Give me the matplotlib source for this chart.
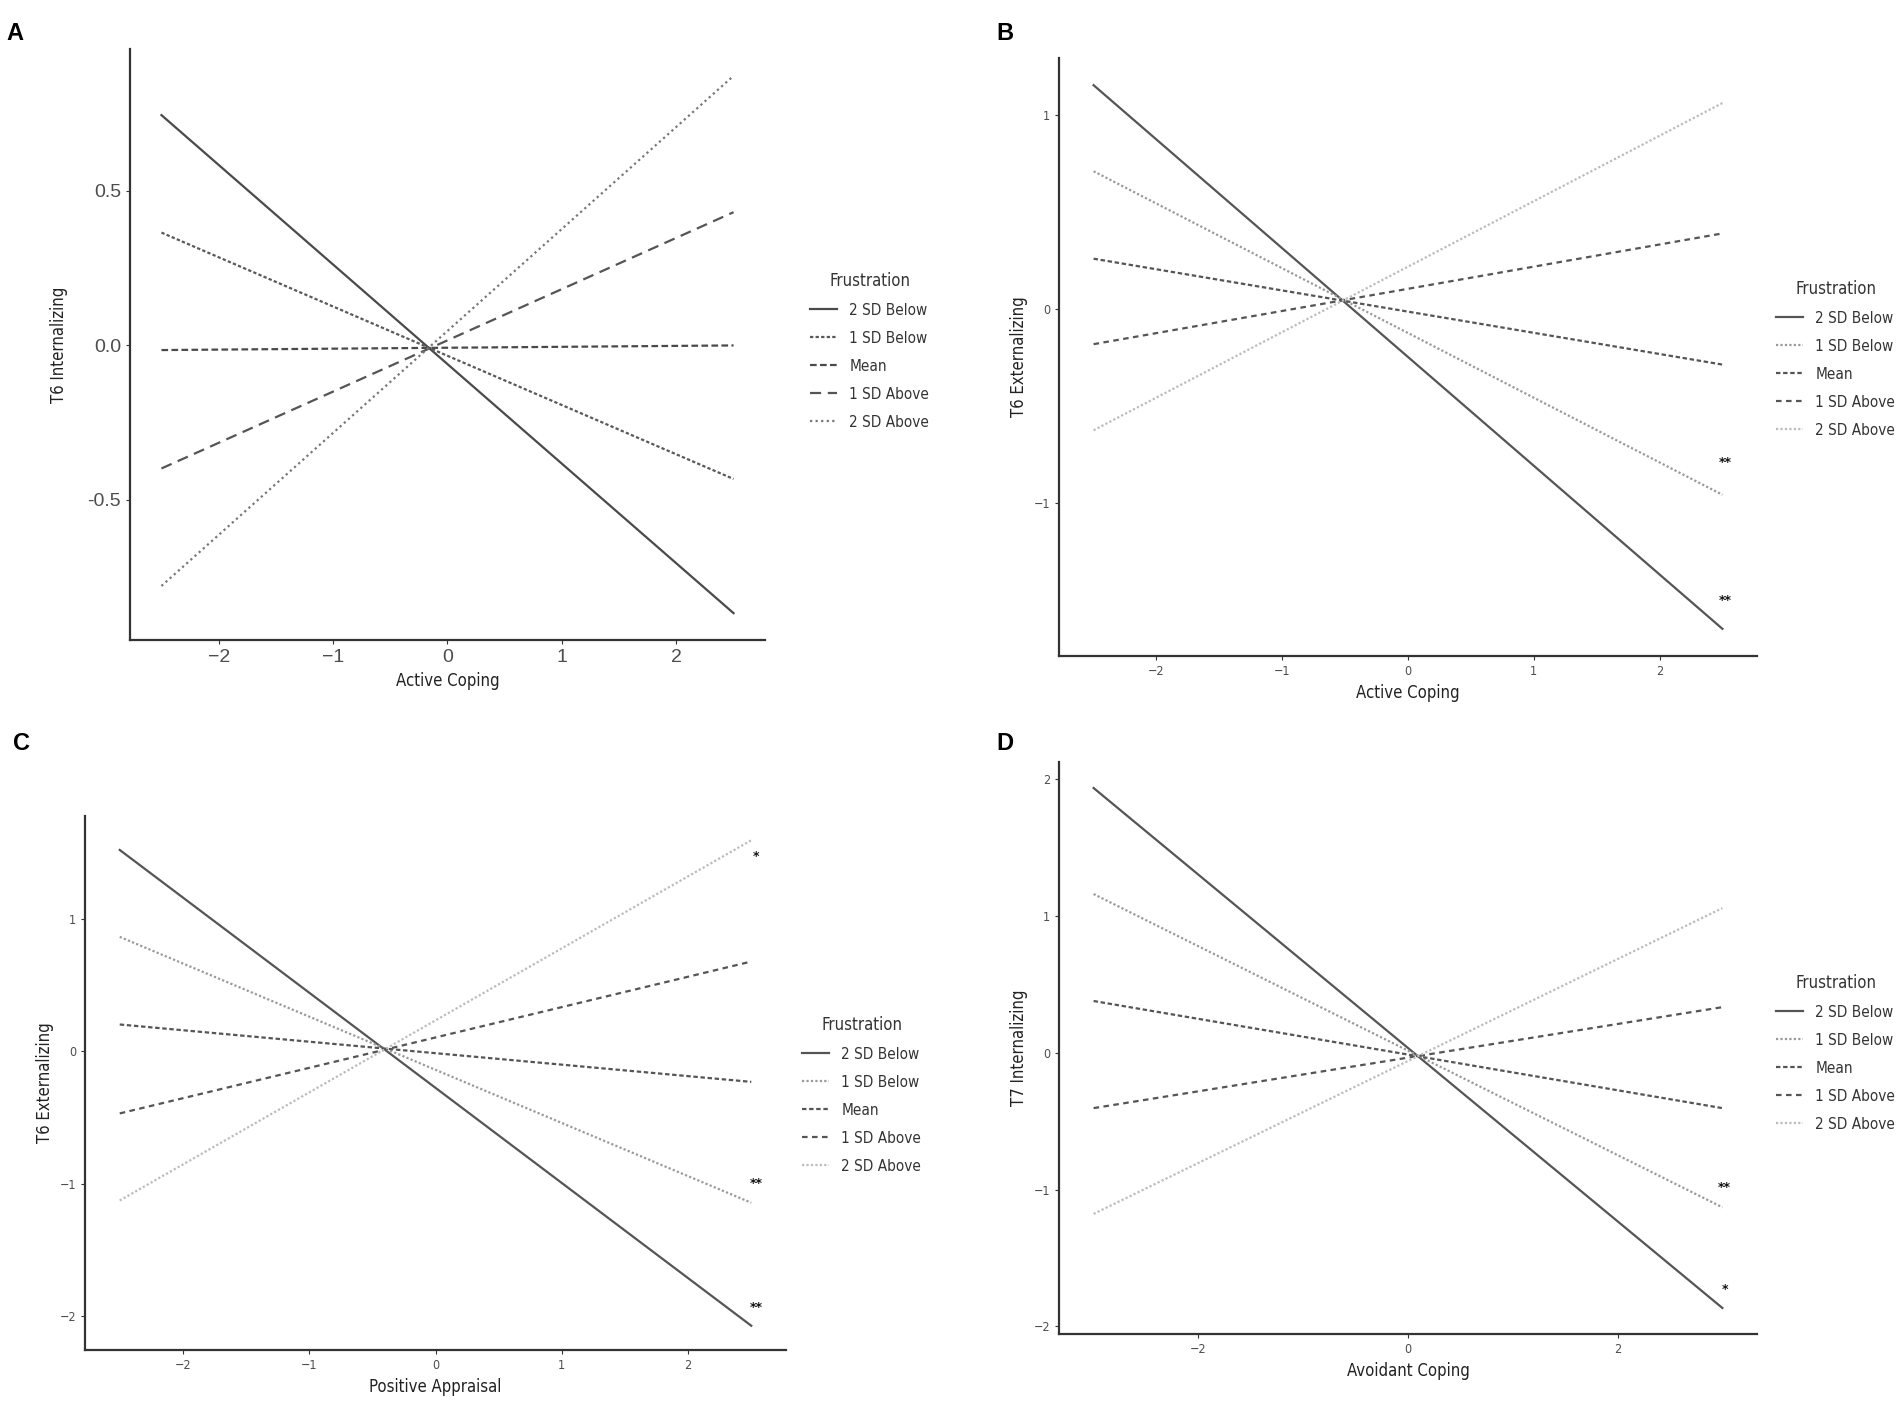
import matplotlib.pyplot as plt
from matplotlib.ticker import FormatStrFormatter
from matplotlib.font_manager import FontProperties, fontManager

W, H = 1904, 1417

SERIES = ['2 SD Below', '1 SD Below', 'Mean', '1 SD Above', '2 SD Above']

# panel A: T6 internalizing ~ active coping
a_x = [-2.5, 2.5]
a_y = {
    '2 SD Below': [0.745, -0.866],
    '1 SD Below': [0.365, -0.432],
    'Mean': [-0.015, 0.0],
    '1 SD Above': [-0.398, 0.431],
    '2 SD Above': [-0.778, 0.872],
}

# panel B: T6 externalizing ~ active coping
b_x = [-2.5, 2.5]
b_y = {
    '2 SD Below': [1.153, -1.645],
    '1 SD Below': [0.71, -0.955],
    'Mean': [0.26, -0.285],
    '1 SD Above': [-0.18, 0.39],
    '2 SD Above': [-0.623, 1.061],
}
b_stars = [(2.52, -0.79, '**'), (2.52, -1.50, '**')]

# panel C: T6 externalizing ~ positive appraisal
c_x = [-2.5, 2.5]
c_y = {
    '2 SD Below': [1.52, -2.07],
    '1 SD Below': [0.864, -1.142],
    'Mean': [0.203, -0.23],
    '1 SD Above': [-0.468, 0.678],
    '2 SD Above': [-1.125, 1.593],
}
c_stars = [(2.54, 1.47, '*'), (2.54, -1.0, '**'), (2.54, -1.93, '**')]

# panel D: T7 internalizing ~ avoidant coping
d_x = [-3.0, 3.0]
d_y = {
    '2 SD Below': [1.935, -1.866],
    '1 SD Below': [1.16, -1.13],
    'Mean': [0.378, -0.405],
    '1 SD Above': [-0.405, 0.333],
    '2 SD Above': [-1.178, 1.057],
}
d_stars = [(3.02, -0.985, '**'), (3.02, -1.73, '*')]

names = {f.name for f in fontManager.ttflist}
if 'Liberation Sans Narrow' in names:
    NARROW = dict(family='Liberation Sans Narrow')
else:
    NARROW = dict(family='DejaVu Sans', stretch='condensed')

styles_a = {
    '2 SD Below': dict(color='#4a4a4a', ls='-'),
    '1 SD Below': dict(color='#5a5a5a', ls=(0, (1.5, 1))),
    'Mean': dict(color='#4a4a4a', ls=(0, (3, 1.5))),
    '1 SD Above': dict(color='#555555', ls=(0, (5, 3))),
    '2 SD Above': dict(color='#777777', ls=(0, (1, 1.5))),
}
styles_bcd = {
    '2 SD Below': dict(color='#555555', ls='-'),
    '1 SD Below': dict(color='#9a9a9a', ls=(0, (1, 1))),
    'Mean': dict(color='#555555', ls=(0, (2, 1.2))),
    '1 SD Above': dict(color='#555555', ls=(0, (2.5, 2))),
    '2 SD Above': dict(color='#bcbcbc', ls=(0, (1, 1))),
}


def box(left, top, right, bottom):
    return [left / W, 1 - bottom / H, (right - left) / W, (bottom - top) / H]


def panel(ax, xs, ys, styles, xlabel, ylabel, xticks, yticks, yfmt, tick_fp,
          leg_xy, stars=(), ypad=4):
    for name in SERIES:
        ax.plot(xs, ys[name], lw=1.6, label=name, **styles[name])
    for sx, sy, s in stars:
        ax.text(sx, sy, s, ha='center', va='center', fontsize=9,
                fontweight='bold', color='#111111')
    allv = [v for name in SERIES for v in ys[name]]
    lo, hi = min(allv), max(allv)
    pad = (hi - lo) * 0.05
    ax.set_ylim(lo - pad, hi + pad)
    xpad = (xs[1] - xs[0]) * 0.055
    ax.set_xlim(xs[0] - xpad, xs[1] + xpad)
    ax.set_xticks(xticks)
    ax.set_yticks(yticks)
    if yfmt:
        ax.yaxis.set_major_formatter(FormatStrFormatter(yfmt))
    for s in ['top', 'right']:
        ax.spines[s].set_visible(False)
    for s in ['left', 'bottom']:
        ax.spines[s].set_color('#333333')
        ax.spines[s].set_linewidth(1.6)
    ax.tick_params(colors='#333333', labelcolor='#4d4d4d', length=3, width=0.8)
    for lab in ax.get_xticklabels() + ax.get_yticklabels():
        lab.set_fontproperties(tick_fp)
    ax.set_xlabel(xlabel, fontsize=12, color='#222222', **NARROW)
    ax.set_ylabel(ylabel, fontsize=12, color='#222222', labelpad=ypad, **NARROW)
    leg = ax.legend(loc='upper left', bbox_to_anchor=(leg_xy[0] / W, 1 - leg_xy[1] / H),
                    bbox_transform=ax.figure.transFigure, frameon=False,
                    title='Frustration', handlelength=1.8, labelspacing=0.85,
                    handletextpad=0.8, prop=FontProperties(size=11, **NARROW),
                    title_fontproperties=FontProperties(size=12, **NARROW))
    for t in leg.get_texts():
        t.set_color('#333333')
    leg.get_title().set_color('#333333')
    return ax


fig = plt.figure(figsize=(W / 100, H / 100), dpi=100)

tick_big = FontProperties(family=['Liberation Sans', 'DejaVu Sans'], size=14)
tick_small = FontProperties(size=9, **NARROW)

ax_a = fig.add_axes(box(130, 49, 765, 640))
panel(ax_a, a_x, a_y, styles_a, 'Active Coping', 'T6 Internalizing',
      [-2, -1, 0, 1, 2], [-0.5, 0.0, 0.5], '%.1f', tick_big, (796, 258), ypad=14)

ax_b = fig.add_axes(box(1059, 58, 1757, 656))
panel(ax_b, b_x, b_y, styles_bcd, 'Active Coping', 'T6 Externalizing',
      [-2, -1, 0, 1, 2], [-1, 0, 1], None, tick_small, (1762, 266), b_stars)

ax_c = fig.add_axes(box(85, 816, 786, 1350))
panel(ax_c, c_x, c_y, styles_bcd, 'Positive Appraisal', 'T6 Externalizing',
      [-2, -1, 0, 1, 2], [-2, -1, 0, 1], None, tick_small, (788, 1002), c_stars)

ax_d = fig.add_axes(box(1059, 762, 1757, 1334))
panel(ax_d, d_x, d_y, styles_bcd, 'Avoidant Coping', 'T7 Internalizing',
      [-2, 0, 2], [-2, -1, 0, 1, 2], None, tick_small, (1762, 960), d_stars)

for letter, (px, py) in zip('ABCD', [(15, 34), (1005, 34), (22, 743), (1005, 743)]):
    fig.text(px / W, 1 - py / H, letter, fontsize=17, fontweight='bold',
             family=['Liberation Sans', 'DejaVu Sans'], ha='center', va='center')

fig.savefig('out.png', dpi=100, facecolor='white')
